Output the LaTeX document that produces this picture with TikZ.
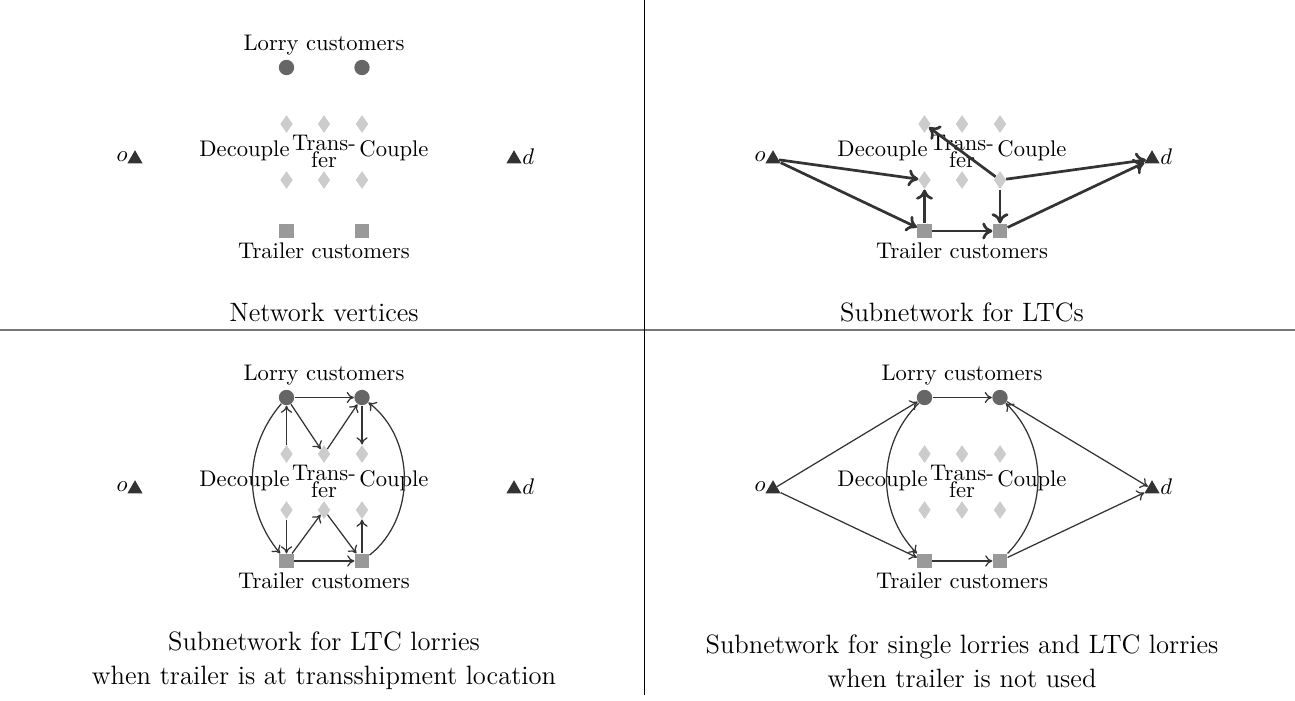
\documentclass[tikz,border=0pt]{standalone}
\usetikzlibrary{shapes.geometric,arrows.meta}
\definecolor{lorry}{HTML}{666666}
\definecolor{trailer}{HTML}{999999}
\definecolor{transf}{HTML}{CCCCCC}
\definecolor{term}{HTML}{333333}
\definecolor{edgec}{HTML}{333333}
\definecolor{sepline}{HTML}{777777}
\tikzset{
 lorrynode/.style={circle, fill=lorry, minimum size=6.8pt, inner sep=0pt},
 trailernode/.style={rectangle, fill=trailer, minimum size=6.3pt, inner sep=0pt},
 transnode/.style={diamond, fill=transf, minimum width=5.6pt, minimum height=8pt, inner sep=0pt},
 termnode/.style={regular polygon, regular polygon sides=3, fill=term, minimum size=7.8pt, inner sep=0pt},
 lbl/.style={inner sep=0pt, font=\fontsize{10}{12}\selectfont},
 caption/.style={inner sep=0pt, font=\fontsize{11.75}{15}\selectfont},
 thickarc/.style={-{To[length=4.5pt,width=7.5pt]}, draw=edgec, line width=1.2pt},
 thinarc/.style={-{To[length=3.2pt,width=5pt]}, draw=edgec, line width=0.55pt},
}
\newcommand\basevertices[1]{%
 \node[termnode] (#1o) at (135,159) {};
 \node[lbl, anchor=east] (#1olab) at (128,157) {$o$};
 \node[termnode] (#1d) at (514,159) {};
 \node[lbl, anchor=west] (#1dlab) at (522,157) {$d$};
 \node[transnode] (#1Dt) at (286.5,124) {};
 \node[transnode] (#1Tt) at (324,124) {};
 \node[transnode] (#1Ct) at (362,124) {};
 \node[transnode] (#1Db) at (286.5,180) {};
 \node[transnode] (#1Tb) at (324,180) {};
 \node[transnode] (#1Cb) at (362,180) {};
 \node[trailernode] (#1S1) at (286.5,231) {};
 \node[trailernode] (#1S2) at (362,231) {};
 \node[lbl, anchor=base east] (#1declab) at (290,156) {Decouple};
 \node[lbl, anchor=base west] (#1coulab) at (359,156) {Couple};
 \node[lbl, align=center, font=\fontsize{10}{7.2}\selectfont] (#1trlab) at (324,151.5) {Trans-\\fer};
 \node[lbl, anchor=base] (#1trclab) at (324,258) {Trailer customers};
}
\newcommand\lorryvertices[1]{%
 \node[lorrynode] (#1L1) at (286.5,67.5) {};
 \node[lorrynode] (#1L2) at (362,67.5) {};
 \node[lbl] (#1lclab) at (324,45) {Lorry customers};
}
\begin{document}
\begin{tikzpicture}[x=0.4425pt, y=-0.4425pt]
\useasboundingbox (0,0) rectangle (1295,700);
% separators
\coordinate (hl) at (0,330); \coordinate (hr) at (1295,330);
\draw[sepline, line width=0.8pt] (hl) -- (hr);
\coordinate (vt) at (644,0); \coordinate (vb) at (644,695);
\draw[black, line width=0.45pt] (vt) -- (vb);
% panel A
\basevertices{A}
\lorryvertices{A}
\node[caption] (capA) at (324,312) {Network vertices};
% panel B
\begin{scope}[shift={(638,0)}]
\basevertices{B}
\end{scope}
\node[caption] (capB) at (962,312) {Subnetwork for LTCs};
\draw[thickarc] (Bo) -- (BDb);
\draw[thickarc] (Bo) -- (BS1);
\draw[thickarc] (BS1) -- (BDb);
\draw[thickarc] (BS1) -- (BS2);
\draw[thickarc] (BCb) -- (BS2);
\draw[thickarc] (BCb) -- (BDt);
\draw[thickarc] (BCb) -- (Bd);
\draw[thickarc] (BS2) -- (Bd);
% panel C
\begin{scope}[shift={(0,330)}]
\basevertices{C}
\lorryvertices{C}
\end{scope}
\node[caption, align=center] (capC) at (324,661) {Subnetwork for LTC lorries\\when trailer is at transshipment location};
\draw[thinarc] (CL1) -- (CL2);
\draw[thinarc] (CL1) -- (CTt);
\draw[thinarc] (CTt) -- (CL2);
\draw[thinarc] (CL2) -- (CCt);
\draw[thinarc] (CDt) -- (CL1);
\draw[thinarc] (CDb) -- (CS1);
\draw[thinarc] (CS1) -- (CTb);
\draw[thinarc] (CTb) -- (CS2);
\draw[thinarc] (CS2) -- (CCb);
\draw[thinarc] (CS1) -- (CS2);
\draw[thinarc] (CL1) to[bend right=40] (CS1);
\draw[thinarc] (CS2) to[bend right=52] (CL2);
% panel D
\begin{scope}[shift={(638,330)}]
\basevertices{D}
\lorryvertices{D}
\end{scope}
\node[caption, align=center] (capD) at (962,661) {Subnetwork for single lorries and LTC lorries\\when trailer is not used};
\draw[thinarc] (Do) -- (DL1);
\draw[thinarc] (Do) -- (DS1);
\draw[thinarc] (DL1) -- (DL2);
\draw[thinarc] (DS1) -- (DS2);
\draw[thinarc] (DL1) to[bend right=45] (DS1);
\draw[thinarc] (DS2) to[bend right=45] (DL2);
\draw[thinarc] (DL2) -- (Dd);
\draw[thinarc] (DS2) -- (Dd);
\end{tikzpicture}
\end{document}
